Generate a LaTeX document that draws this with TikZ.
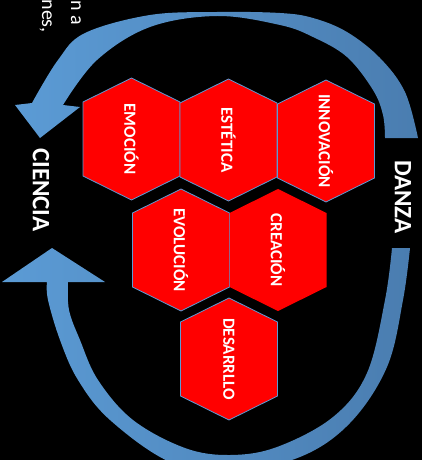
\documentclass[tikz,border=0pt]{standalone}
\usepackage{fontspec}
\setmainfont{Carlito}
\begin{document}
\begin{tikzpicture}[x=1pt,y=-1pt]
\definecolor{hexred}{HTML}{FF0000}
\definecolor{hexline}{HTML}{5B9BD5}
\definecolor{arrowlight}{HTML}{5B9BD5}
\definecolor{arrowdark}{HTML}{4A7DB0}
\tikzset{
  hexa/.pic={\path[pic actions] (0,-61) -- (48.5,-37) -- (48.5,37) -- (0,61)
      -- (-48.5,37) -- (-48.5,-37) -- cycle;},
  hexfill/.style={fill=hexred, draw=hexline, line width=0.8pt},
  hexplain/.style={fill=hexred},
  hexlabel/.style={text=white, rotate=-90, inner sep=0pt,
      font=\bfseries\fontsize{17}{19}\selectfont},
  sidelabel/.style={text=white, rotate=-90, inner sep=0pt,
      font=\bfseries\fontsize{25}{29}\selectfont},
  notetext/.style={text=white, rotate=-90, inner sep=0pt,
      font=\fontsize{20}{24}\selectfont},
  arrowshade/.style={left color=arrowlight, right color=arrowdark}
}
% background and page frame
\fill[black] (0,0) rectangle (422,460);
\useasboundingbox (0,0) rectangle (422,460);
\begin{scope}
\clip (0,0) rectangle (422,460);

% tail of a text block running off the top edge
\node[notetext, anchor=base east] (noteA) at (71,25) {n a};
\node[notetext, anchor=base east] (noteB) at (42,33) {nes,};

% upper curved arrow: from DANZA over the top to CIENCIA
\shade[arrowshade] (418,138) -- (385,138)
  -- plot[smooth, tension=0.6] coordinates {(385,138) (383,115) (373,90) (347,57)
      (313,37) (280,25) (217,16) (150,27) (97,60) (63,105)}
  -- (80,107) -- (40,138) -- (15,105) -- (32,103)
  -- plot[smooth, tension=0.6] coordinates {(32,103) (58,60) (85,33) (150,15)
      (217,12) (280,13) (313,18) (347,32) (380,58) (405,92) (418,138)}
  -- cycle;

% lower curved arrow: from DANZA under the bottom to CIENCIA
\shade[arrowshade] (392,248) -- (410,248)
  -- plot[smooth, tension=0.6] coordinates {(410,248) (403,300) (387,367)
      (350,423) (300,457) (230,472) (170,462) (110,420) (78,380) (60,340)
      (48,300) (47,282)}
  -- (2,282) -- (52,248) -- (105,282) -- (68,282)
  -- plot[smooth, tension=0.6] coordinates {(68,282) (69,310) (80,340)
      (98,380) (133,420) (185,448) (230,455) (277,447) (333,417) (367,373)
      (385,300) (392,248)}
  -- cycle;
\end{scope}

% honeycomb of concepts
\pic[hexfill] at (131.5,139) {hexa};
\pic[hexfill] at (228.5,140) {hexa};
\pic[hexfill] at (326,141) {hexa};
\pic[hexfill] at (181,250) {hexa};
\pic[hexplain] at (278,250) {hexa};
\pic[hexfill] at (229,359) {hexa};

\node[hexlabel] (emocion) at (131.5,139) {EMOCIÓN};
\node[hexlabel] (estetica) at (228.5,140) {ESTÉTICA};
\node[hexlabel] (innovacion) at (326,141) {INNOVACIÓN};
\node[hexlabel] (evolucion) at (181,250) {EVOLUCIÓN};
\node[hexlabel] (creacion) at (278,250) {CREACIÓN};
\node[hexlabel] (desarrollo) at (229,359) {DESARRLLO};

% the two poles of the cycle
\node[sidelabel] (ciencia) at (41,190) {CIENCIA};
\node[sidelabel] (danza) at (403,197) {DANZA};
\end{tikzpicture}
\end{document}
